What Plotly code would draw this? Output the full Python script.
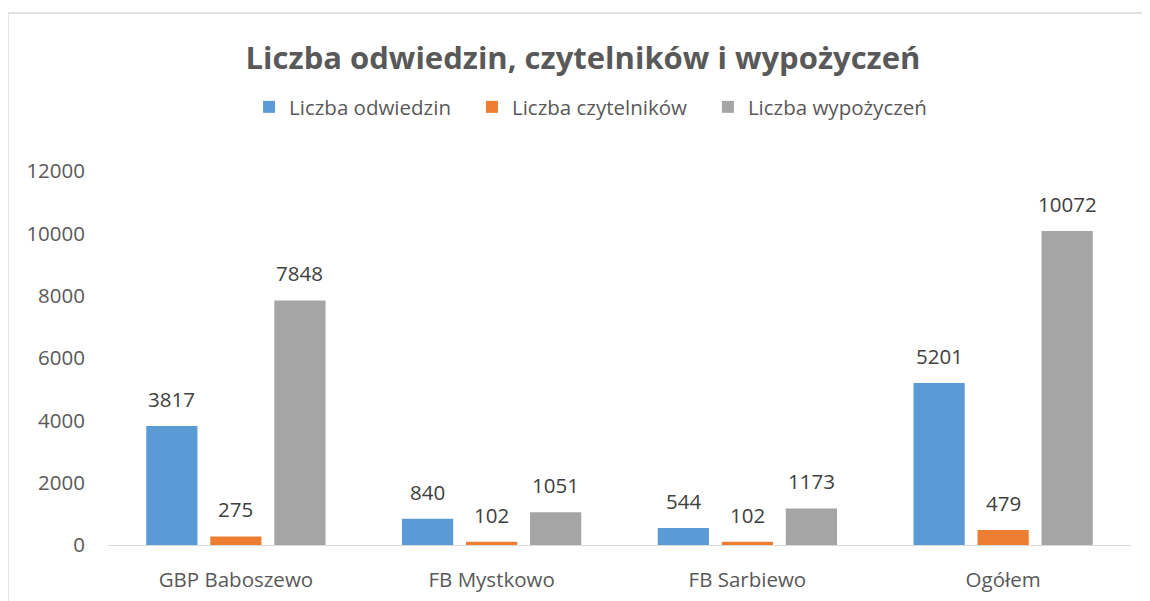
import plotly.graph_objects as go

categories = ["GBP Baboszewo", "FB Mystkowo", "FB Sarbiewo", "Ogółem"]
series_names = ["Liczba odwiedzin", "Liczba czytelników", "Liczba wypożyczeń"]
odwiedziny = [3817, 840, 544, 5201]
czytelnicy = [275, 102, 102, 479]
wypozyczenia = [7848, 1051, 1173, 10072]
colors = ["#5B9BD5", "#ED7D31", "#A5A5A5"]
y_ticks = [0, 2000, 4000, 6000, 8000, 10000, 12000]
y_tick_labels = [str(v) for v in y_ticks]

FONT = "Open Sans"
TXT = "#595959"
FS = 20.5
W, H = 1142, 593

fig = go.Figure()
all_series = [odwiedziny, czytelnicy, wypozyczenia]
for k, (name, vals, col) in enumerate(zip(series_names, all_series, colors)):
    pad = "\u00a0\u00a0\u00a0" if k < len(series_names) - 1 else ""
    fig.add_trace(go.Bar(x=categories, y=vals, name=name + pad,
                         marker=dict(color=col, line=dict(width=0))))

annotations = []
for i, vals in enumerate(all_series):
    for c, v in zip(categories, vals):
        annotations.append(dict(x=c, y=v, xref="x", yref="y", text=str(v), showarrow=False,
                                xshift=(i - 1) * 64, yanchor="bottom", yshift=11,
                                font=dict(family=FONT, size=FS, color="#404040")))

border = dict(color="#D9D9D9", width=1.5)
fig.update_layout(
    width=W, height=H,
    margin=dict(l=100, r=19, t=163, b=56, autoexpand=False),
    paper_bgcolor="white", plot_bgcolor="white",
    barmode="group", bargap=0.249, bargroupgap=0.2,
    title=dict(text="<b>Liczba odwiedzin, czytelników i wypożyczeń</b>", x=575 / W, xref="container",
               y=1 - 50 / H, yref="container", xanchor="center", yanchor="middle",
               font=dict(family=FONT, size=31, color=TXT)),
    legend=dict(orientation="h", x=0.4717, xanchor="center", y=1.171, yanchor="middle",
                font=dict(family=FONT, size=FS, color=TXT), traceorder="normal"),
    annotations=annotations,
    font=dict(family=FONT, color=TXT),
    shapes=[
        dict(type="line", xref="paper", yref="paper", x0=-0.0978, x1=1.05, y0=1.4225, y1=1.4225,
             line=border, layer="below"),
        dict(type="line", xref="paper", yref="paper", x0=-0.0978, x1=-0.0978, y0=-0.2, y1=1.4225,
             line=border, layer="below"),
    ],
)
fig.update_xaxes(showline=True, linecolor="#D9D9D9", linewidth=1, ticks="", showgrid=False,
                 automargin=False,
                 tickfont=dict(family=FONT, size=FS, color=TXT), ticklabelstandoff=16)
fig.update_yaxes(range=[0, 12000], tickvals=y_ticks, ticktext=y_tick_labels, showgrid=False,
                 zeroline=False, showline=False, ticks="", automargin=False,
                 tickfont=dict(family=FONT, size=FS, color=TXT), ticklabelstandoff=22)

fig.write_html("out.html")
